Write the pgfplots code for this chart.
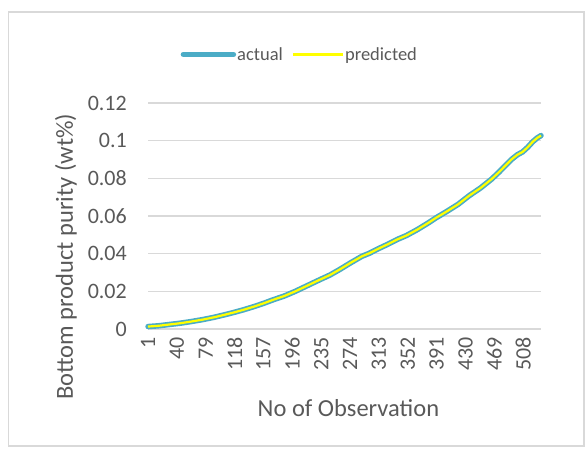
\documentclass[border=0pt]{standalone}
\usepackage{fontspec}
\setmainfont{Carlito}
\usepackage{pgfplots}
\usepackage{pgfplotstable}
\pgfplotsset{compat=1.18}
\definecolor{txt}{HTML}{595959}
\definecolor{gridc}{HTML}{D9D9D9}
\definecolor{act}{HTML}{4BACC6}
\definecolor{pred}{HTML}{FFFF00}

\pgfplotstableread{
obs val
1 0.0013
15 0.0017
30 0.0024
45 0.0031
60 0.0040
75 0.0050
90 0.0062
105 0.0076
118 0.0089
130 0.0102
145 0.0120
157 0.0136
170 0.0155
185 0.0175
200 0.0200
215 0.0228
230 0.0256
247 0.0287
260 0.0316
275 0.0352
290 0.0386
300 0.0402
312 0.0426
325 0.0450
338 0.0476
350 0.0496
365 0.0528
380 0.0564
390 0.0590
405 0.0625
420 0.0662
435 0.0708
450 0.0748
465 0.0795
475 0.0832
484 0.0868
492 0.0900
500 0.0925
507 0.0940
514 0.0965
521 0.0995
527 0.1015
532 0.1027
}\actualdata

\pgfplotstableread{
obs val
1 0.0013
15 0.0017
30 0.0024
45 0.0031
60 0.0040
75 0.0050
90 0.0062
105 0.0076
118 0.0089
130 0.0102
145 0.0120
157 0.0136
170 0.0155
185 0.0175
200 0.0200
215 0.0228
230 0.0256
247 0.0287
260 0.0316
275 0.0352
290 0.0386
300 0.0402
312 0.0426
325 0.0450
338 0.0476
350 0.0496
365 0.0528
380 0.0564
390 0.0590
405 0.0625
420 0.0662
435 0.0708
450 0.0748
465 0.0795
475 0.0832
484 0.0868
492 0.0900
500 0.0925
507 0.0940
514 0.0965
521 0.0995
527 0.1015
532 0.1027
}\predicteddata

\begin{document}
\begin{tikzpicture}[x=1pt,y=1pt]
\useasboundingbox (0,0) rectangle (585,448);
\draw[gridc, line width=1.3pt] (8.5,2) rectangle (584,436);
\begin{axis}[
  at={(148pt,119pt)}, anchor=south west,
  scale only axis, width=393pt, height=226pt,
  xmin=1, xmax=532, ymin=0, ymax=0.12,
  clip=false,
  axis line style={draw=none},
  major tick length=0pt,
  ymajorgrids, grid style={gridc, line width=1.3pt},
  xtick={1,40,79,118,157,196,235,274,313,352,391,430,469,508},
  xticklabels={1,40,79,118,157,196,235,274,313,352,391,430,469,508},
  ytick={0,0.02,0.04,0.06,0.08,0.1,0.12},
  yticklabels={0,0.02,0.04,0.06,0.08,0.1,0.12},
  scaled y ticks=false,
  ticklabel style={font=\fontsize{22}{26}\selectfont, text=txt},
  yticklabel style={anchor=east, inner sep=0pt, xshift=-21pt},
  xticklabel style={yshift=-8pt, rotate=90, anchor=east, inner sep=0pt},
  xlabel={No of Observation},
  ylabel={Bottom product purity (wt\%)},
  label style={font=\fontsize{24.5}{29}\selectfont, text=txt},
  xlabel style={at={(axis description cs:0.51,-0.35)}, anchor=center},
  ylabel style={at={(axis description cs:-0.209,0.32)}, anchor=center},
  legend columns=2,
  legend style={draw=none, fill=none, font=\fontsize{18.5}{22}\selectfont, text=txt,
    at={(axis description cs:0.385,1.215)}, anchor=center,
    nodes={inner sep=1pt},
    /tikz/every even column/.append style={column sep=8pt}},
  legend image code/.code={\draw[#1] (0pt,0pt) -- (50pt,0pt);},
]
\addplot[act, line width=5.5pt, line join=round, line cap=round] table[x=obs, y=val] {\actualdata};
\addlegendentry{actual}
\addplot[pred, line width=2.2pt, line join=round] table[x=obs, y=val] {\predicteddata};
\addlegendentry{predicted}
\end{axis}
\end{tikzpicture}
\end{document}
